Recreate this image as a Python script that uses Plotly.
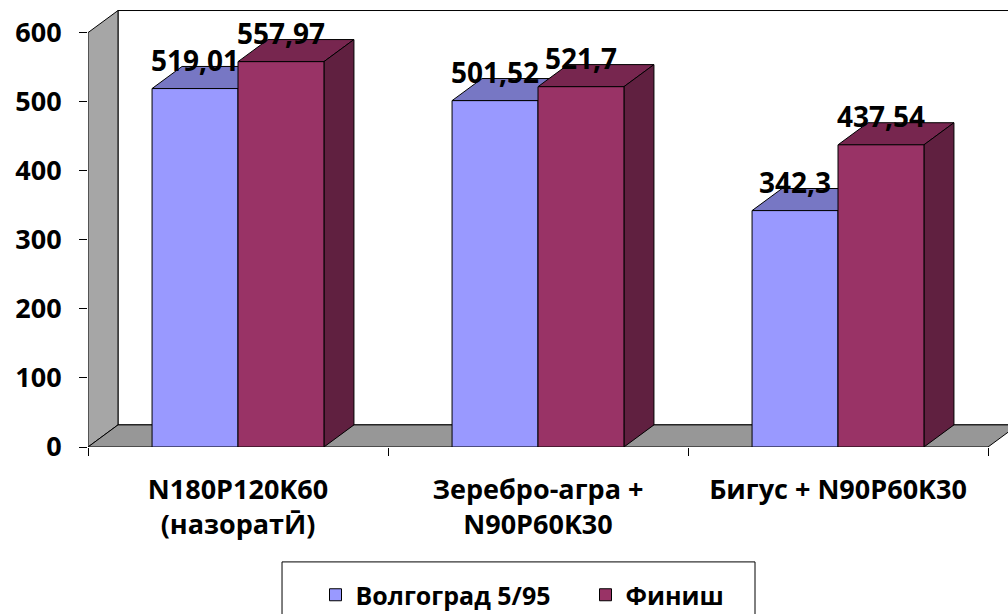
import plotly.graph_objects as go

# ---- data ----
categories = ["N180P120K60<br>(назоратӢ)", "Зеребро-агра +<br>N90P60K30", "Бигус + N90P60K30"]
series_names = ["Волгоград 5/95", "Финиш"]
volgograd = [519.01, 501.52, 342.3]
finish = [557.97, 521.7, 437.54]
value_labels_v = ["519,01", "501,52", "342,3"]
value_labels_f = ["557,97", "521,7", "437,54"]
y_ticks = [0, 100, 200, 300, 400, 500, 600]

# ---- style ----
FONT = "Open Sans"
BARGAP = 0.427
DX = 0.1      # depth offset (category units)
DY = 32.0     # depth offset (value units)
Y_MAX = 600
front_cols = ["#9999FF", "#993366"]
top_cols = ["#7777C4", "#77264F"]
side_cols = ["#6464A8", "#602040"]
WALL = "#A6A6A6"
FLOOR = "#979797"

n = len(categories)
half = (1 - BARGAP) / 2

fig = go.Figure()
for name, vals, col in zip(series_names, [volgograd, finish], front_cols):
    fig.add_trace(go.Bar(
        x=categories, y=vals, name=name,
        marker=dict(color=col, line=dict(color="black", width=1)),
        hoverinfo="skip",
    ))

shapes = []
def poly(pts, fill):
    path = "M" + " L".join(f"{x},{y}" for x, y in pts) + " Z"
    shapes.append(dict(type="path", path=path, xref="x", yref="y",
                       fillcolor=fill, line=dict(color="black", width=1),
                       layer="below"))

x_lo, x_hi = -0.5, n - 0.5
# back wall
poly([(x_lo + DX, DY), (x_hi + DX + 0.5, DY), (x_hi + DX + 0.5, Y_MAX + DY), (x_lo + DX, Y_MAX + DY)], "white")
# left wall
poly([(x_lo, 0), (x_lo + DX, DY), (x_lo + DX, Y_MAX + DY), (x_lo, Y_MAX)], WALL)
# floor
poly([(x_lo, 0), (x_hi, 0), (x_hi + DX, DY), (x_lo + DX, DY)], FLOOR)

for i in range(n):
    for s, vals in enumerate([volgograd, finish]):
        v = vals[i]
        x0 = i - half + s * half
        x1 = x0 + half
        poly([(x0, v), (x1, v), (x1 + DX, v + DY), (x0 + DX, v + DY)], top_cols[s])
        poly([(x1, 0), (x1, v), (x1 + DX, v + DY), (x1 + DX, DY)], side_cols[s])

annotations = []
for i in range(n):
    for s, (vals, labs) in enumerate([(volgograd, value_labels_v), (finish, value_labels_f)]):
        xc = i - half / 2 + s * half
        annotations.append(dict(x=xc, y=vals[i], xref="x", yref="y", text=labs[i],
                                showarrow=False, yanchor="middle", yshift=29,
                                font=dict(family=FONT, size=28, color="black", weight="bold")))

# legend border box
shapes.append(dict(type="rect", xref="paper", yref="paper", x0=0.2109, x1=0.725,
                   y0=-0.40, y1=-0.260, line=dict(color="black", width=1),
                   fillcolor="rgba(0,0,0,0)", layer="above"))

fig.update_layout(
    width=1008, height=614,
    margin=dict(l=88, r=0, t=5, b=167, autoexpand=False),
    paper_bgcolor="white", plot_bgcolor="white",
    barmode="group", bargap=BARGAP, bargroupgap=0,
    font=dict(family=FONT, color="black", weight="bold"),
    shapes=shapes, annotations=annotations,
    showlegend=True,
    legend=dict(orientation="h", xref="container", yref="container",
                x=0.313, xanchor="left", y=1 - 572 / 614, yanchor="top",
                font=dict(family=FONT, size=25, color="black", weight="bold"),
                entrywidth=225, entrywidthmode="pixels", bgcolor="rgba(0,0,0,0)"),
    xaxis=dict(type="category", range=[-0.5, -0.5 + 920 / 300], showgrid=False,
               zeroline=False, showline=False, ticks="outside", ticklen=8,
               tickcolor="black", tickson="boundaries", ticklabelstandoff=24,
               automargin=False,
               tickfont=dict(family=FONT, size=27, color="black", weight="bold")),
    yaxis=dict(range=[0, 640], tickvals=y_ticks, showgrid=False, zeroline=False,
               showline=False, ticks="outside", ticklen=8, tickcolor="black",
               ticklabelstandoff=12, automargin=False,
               tickfont=dict(family=FONT, size=27, color="black", weight="bold")),
)

fig.write_html("out.html", config={"displayModeBar": False},
               post_script="document.body.style.margin='0';document.body.style.overflow='hidden';")
